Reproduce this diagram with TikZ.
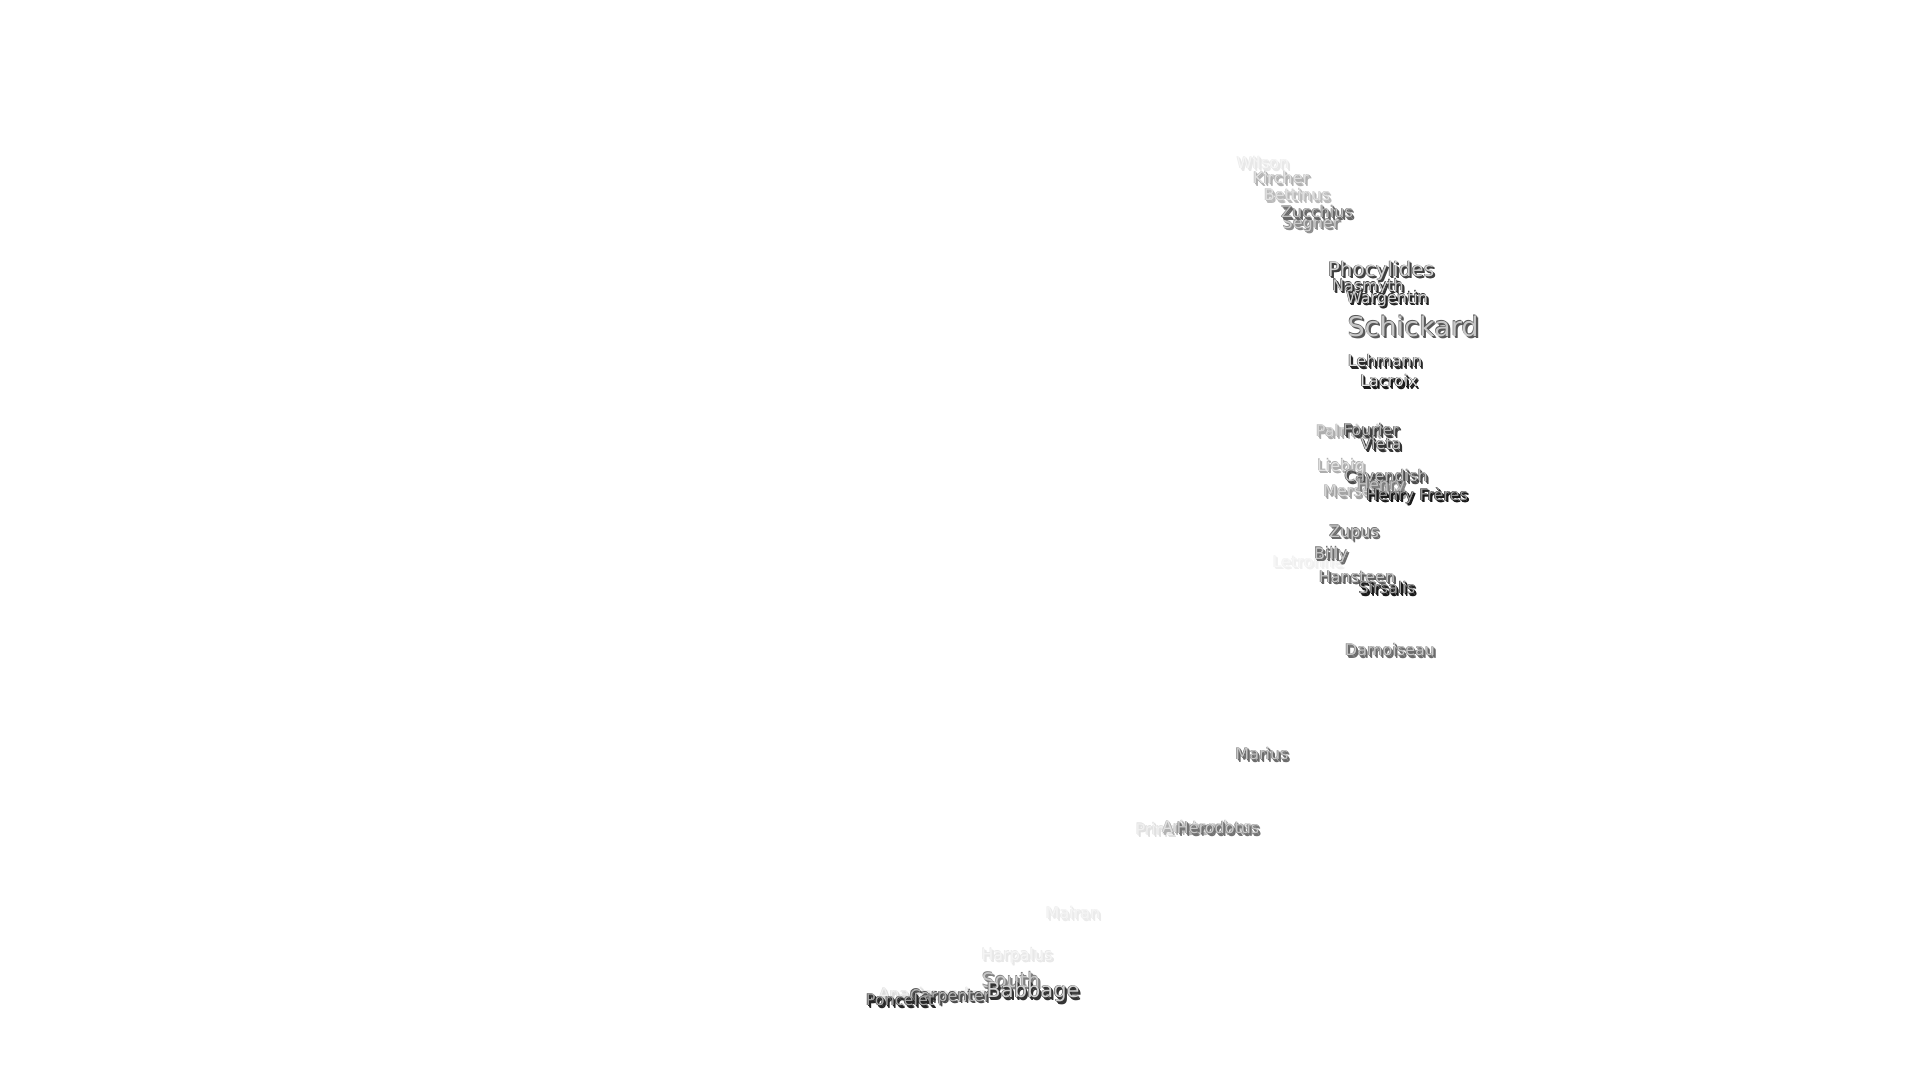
\documentclass[tikz,border=0pt]{standalone}
\usepackage{fontspec}
\setmainfont{DejaVu Sans}
\tikzset{
  crater/.style={inner sep=0pt,anchor=center},
}
% #1 name, #2 x, #3 y, #4 size, #5 fill, #6 shadow, #7 text
\newcommand\crater[7]{%
  \foreach \dx/\dy in {-0.5/-0.5,0.8/0.8,1.6/1.6,2.2/2.2}
    \node[crater,font=\fontsize{#4}{#4}\selectfont,text=black!#6,
      xshift=\dx pt,yshift=-\dy pt] at (#2,#3) {#7};
  \node[crater,font=\fontsize{#4}{#4}\selectfont,text=black!#5] (#1) at (#2,#3) {#7};
}
\begin{document}
\begin{tikzpicture}[x=1pt,y=-1pt]
  \useasboundingbox[fill=white] (0,0) rectangle (1920,1080);
  % southern limb
  \crater{wilson}{1263}{163}{16}{4}{9}{Wilson}
  \crater{kircher}{1281}{178}{16}{12}{30}{Kircher}
  \crater{bettinus}{1297}{195}{16}{12}{27}{Bettinus}
  \crater{segner}{1311}{224}{16}{20}{45}{Segner}
  \crater{zucchius}{1317}{212}{16}{25}{60}{Zucchius}
  \crater{phocylides}{1381}{271}{20}{18}{75}{Phocylides}
  \crater{nasmyth}{1368}{287}{16}{22}{80}{Nasmyth}
  \crater{wargentin}{1387}{299}{16}{18}{85}{Wargentin}
  \crater{schickard}{1413}{326}{27}{22}{65}{Schickard}
  \crater{lehmann}{1385}{361}{16}{12}{85}{Lehmann}
  \crater{lacroix}{1389}{381}{16}{10}{90}{Lacroix}
  % western limb
  \crater{palmieri}{1348}{431}{16}{16}{32}{Palmieri}
  \crater{fourier}{1371}{430}{16}{28}{75}{Fourier}
  \crater{vieta}{1381}{444}{16}{22}{80}{Vieta}
  \crater{liebig}{1341}{467}{16}{12}{32}{Liebig}
  \crater{mersenius}{1364}{491}{16}{16}{36}{Mersenius}
  \crater{cavendish}{1386}{476}{16}{25}{70}{Cavendish}
  \crater{henry}{1381}{486}{16}{25}{50}{Henry}
  \crater{henryfreres}{1417}{496}{16}{40}{90}{Henry Frères}
  \crater{zupus}{1354}{533}{16}{22}{58}{Zupus}
  \crater{letronne}{1308}{562}{16}{3}{6}{Letronne}
  \crater{billy}{1331}{555}{16}{22}{58}{Billy}
  \crater{hansteen}{1357}{577}{16}{22}{62}{Hansteen}
  \crater{sirsalis}{1387}{588}{16}{35}{90}{Sirsalis}
  \crater{damoiseau}{1390}{650}{16}{22}{58}{Damoiseau}
  \crater{marius}{1262}{754}{16}{22}{58}{Marius}
  % north-western limb
  \crater{prinz}{1155}{829}{16}{6}{12}{Prinz}
  \crater{aristarchus}{1207}{827}{16}{12}{30}{Aristarchus}
  \crater{herodotus}{1218}{828}{16}{22}{55}{Herodotus}
  \crater{mairan}{1073}{913}{16}{4}{8}{Mairan}
  \crater{harpalus}{1017}{956}{16}{4}{9}{Harpalus}
  \crater{south}{1011}{980}{20}{22}{50}{South}
  \crater{anaximander}{932}{994}{16}{6}{14}{Anaximander}
  \crater{carpenter}{950}{997}{16}{30}{70}{Carpenter}
  \crater{babbage}{1033}{992}{21}{18}{80}{Babbage}
  \crater{poncelet}{900}{1000}{16}{35}{85}{Poncelet}
\end{tikzpicture}
\end{document}
